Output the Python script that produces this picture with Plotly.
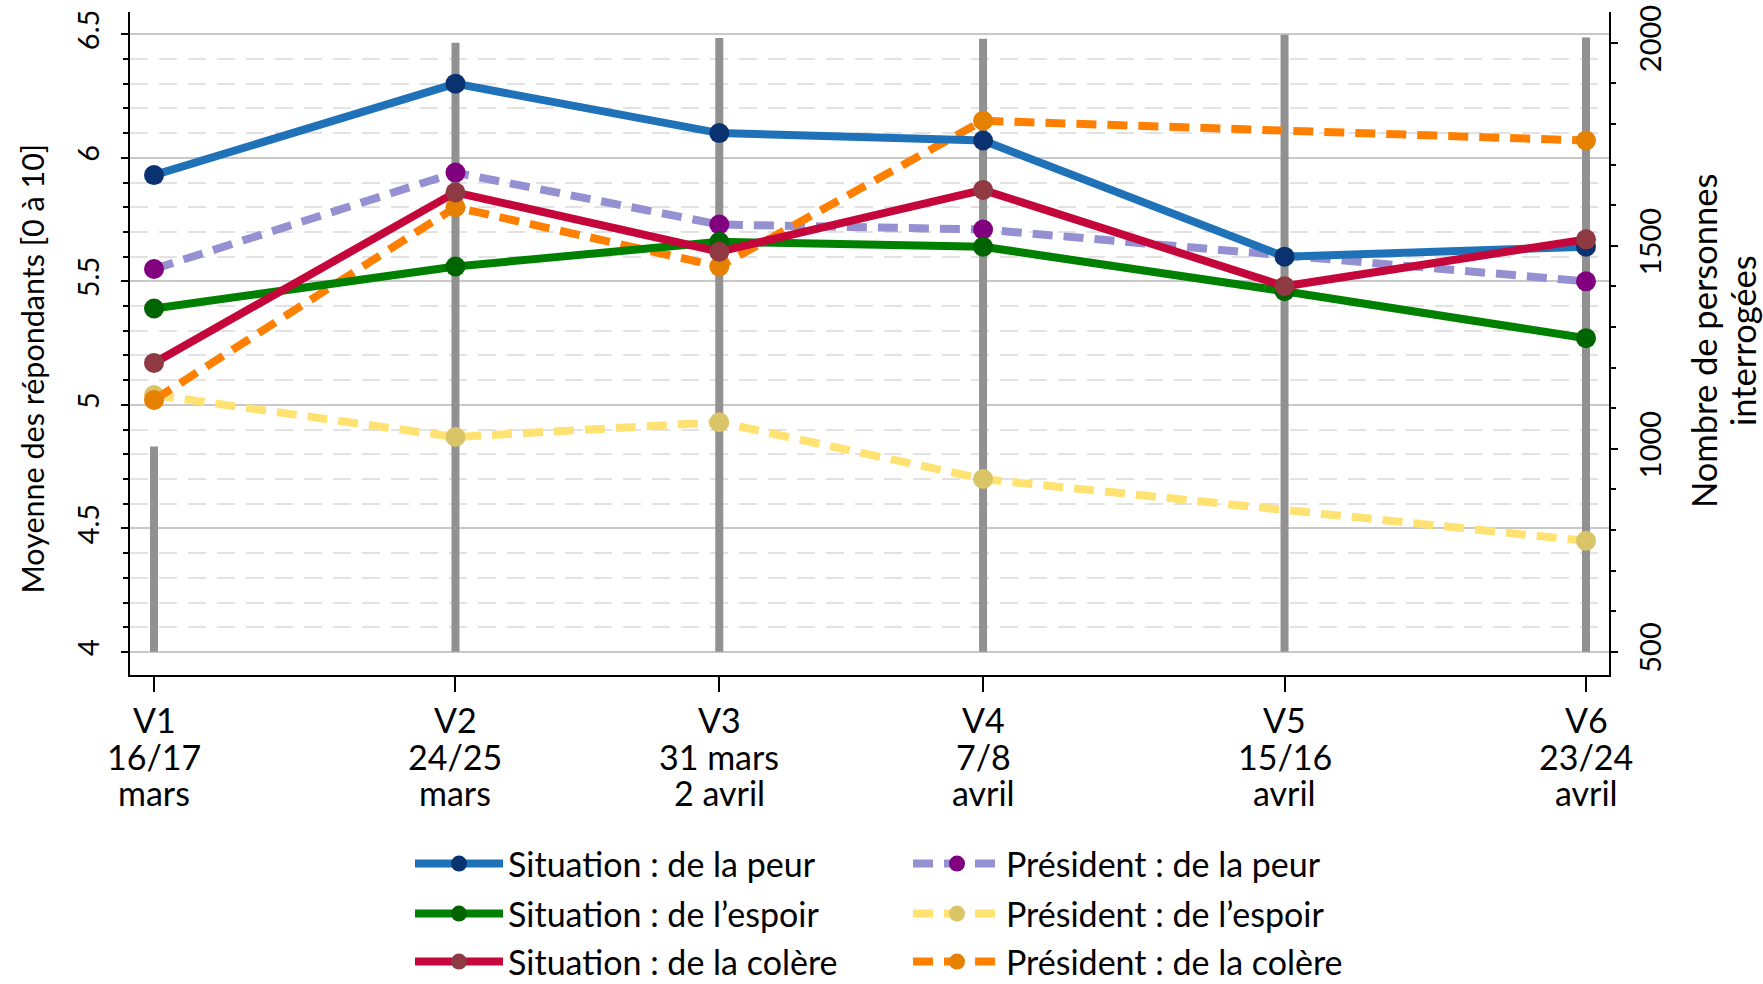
import plotly.graph_objects as go

# ---------------- data ----------------
waves = ["V1", "V2", "V3", "V4", "V5", "V6"]
wave_dates = [["16/17", "mars"], ["24/25", "mars"], ["31 mars", "2 avril"],
              ["7/8", "avril"], ["15/16", "avril"], ["23/24", "avril"]]
# mid-day of each wave, counted from 1 March
wave_day = [16.5, 24.5, 31.5, 38.5, 46.5, 54.5]

sit_peur = [5.93, 6.30, 6.10, 6.07, 5.60, 5.64]
sit_espoir = [5.39, 5.56, 5.66, 5.64, 5.46, 5.27]
sit_colere = [5.17, 5.86, 5.62, 5.87, 5.48, 5.67]
pres_peur = [5.55, 5.94, 5.73, 5.71, None, 5.50]
pres_espoir = [5.04, 4.87, 4.93, 4.70, None, 4.45]
pres_colere = [5.02, 5.80, 5.56, 6.15, None, 6.07]

n_interroges = [1006, 2000, 2012, 2010, 2020, 2013]
n_base = 500

left_ticks = [4, 4.5, 5, 5.5, 6, 6.5]
right_ticks = [500, 1000, 1500, 2000]

# ---------------- layout geometry ----------------
W, H = 1763, 984
L, R, T, B = 130, 154, 12, 309
pw = W - L - R
ph = H - T - B


def fx(px):
    return (px - L) / pw


def fy(py):
    return (H - B - py) / ph


FONT = "Lato, 'Open Sans', sans-serif"

fig = go.Figure()

# grey bars: number of respondents (right axis, primary 'y' so drawn below)
bx, by = [], []
for d, n in zip(wave_day, n_interroges):
    bx += [d, d, None]
    by += [n_base, n, None]
fig.add_trace(go.Scatter(x=bx, y=by, mode="lines", yaxis="y",
                         line=dict(color="#919191", width=8),
                         showlegend=False, hoverinfo="skip"))

series = [
    ("Situation : de la peur", sit_peur, "#1F72B8", "#0A3271", "solid", "legend"),
    ("Président : de la peur", pres_peur, "#9490D2", "#800080", "dash", "legend"),
    ("Situation : de l\u2019espoir", sit_espoir, "#008000", "#006400", "solid", "legend2"),
    ("Président : de l\u2019espoir", pres_espoir, "#FFE271", "#D9C468", "dash", "legend2"),
    ("Situation : de la colère", sit_colere, "#C4063A", "#8F3A42", "solid", "legend3"),
    ("Président : de la colère", pres_colere, "#FF8000", "#E68000", "dash", "legend3"),
]
draw_order = [3, 1, 5, 2, 0, 4]
for i in draw_order:
    name, vals, lc, mc, dash, lg = series[i]
    fig.add_trace(go.Scatter(
        x=wave_day, y=vals, name=name, yaxis="y2", mode="lines+markers",
        connectgaps=True, legendrank=i + 1, legend=lg,
        line=dict(color=lc, width=8, dash="20px,11px" if dash == "dash" else "solid"),
        marker=dict(color=mc, size=20, line=dict(width=0)),
    ))

annotations = []
for d, w, dt in zip(wave_day, waves, wave_dates):
    for k, txt in enumerate([w] + dt):
        annotations.append(dict(x=d, xref="x", y=0, yref="paper",
                                yshift=-(44.6 + 36.5 * k), yanchor="middle",
                                xanchor="center", showarrow=False, text=txt,
                                height=35, valign="middle",
                                font=dict(size=34, color="black", family=FONT)))

annotations.append(dict(x=fx(31.5), xref="paper", y=fy(369), yref="paper",
                        text="Moyenne des répondants [0 à 10]", textangle=-90,
                        showarrow=False, xanchor="center", yanchor="middle",
                        font=dict(size=30.5, color="black", family=FONT)))
annotations.append(dict(x=fx(1703), xref="paper", y=fy(341), yref="paper",
                        text="Nombre de personnes", textangle=-90,
                        showarrow=False, xanchor="center", yanchor="middle",
                        font=dict(size=34.5, color="black", family=FONT)))
annotations.append(dict(x=fx(1742), xref="paper", y=fy(341), yref="paper",
                        text="interrogées", textangle=-90,
                        showarrow=False, xanchor="center", yanchor="middle",
                        font=dict(size=34.5, color="black", family=FONT)))


def legend_row(py):
    return dict(orientation="h", x=fx(410), xanchor="left", y=fy(py), yanchor="middle",
                entrywidth=395, itemwidth=88, traceorder="normal",
                font=dict(size=34, family=FONT, color="black"),
                bgcolor="rgba(0,0,0,0)")


fig.update_layout(
    width=W, height=H,
    margin=dict(l=L, r=R, t=T, b=B, pad=0, autoexpand=False),
    paper_bgcolor="white", plot_bgcolor="white",
    font=dict(family=FONT, color="black", size=29),
    showlegend=True,
    legend=legend_row(864),
    legend2=legend_row(914),
    legend3=legend_row(962),
    xaxis=dict(range=[15.863, 55.11], tickvals=wave_day, ticktext=["" for _ in waves],
               showticklabels=False, ticks="outside", ticklen=15, tickwidth=2,
               tickcolor="black", showline=True, linecolor="black", linewidth=2,
               showgrid=False, zeroline=False, automargin=False),
    yaxis=dict(side="right", range=[443, 2076], tickvals=right_ticks,
               ticktext=[str(v) for v in right_ticks], tickangle=-90,
               ticks="outside", ticklen=7, tickwidth=2, tickcolor="black",
               ticklabelstandoff=8, automargin=False,
               minor=dict(dtick=100, tick0=500, ticks="outside", ticklen=5,
                          tickcolor="black", tickwidth=1.5, showgrid=False),
               showline=True, linecolor="black", linewidth=2,
               showgrid=False, zeroline=False, tickfont=dict(size=29)),
    yaxis2=dict(side="left", overlaying="y", range=[3.907, 6.590],
                tickvals=left_ticks, ticktext=[f"{v:g}" for v in left_ticks],
                tickangle=-90, ticks="outside", ticklen=7, tickwidth=2,
                tickcolor="black", ticklabelstandoff=10, automargin=False,
                showline=True, linecolor="black", linewidth=2,
                showgrid=True, gridcolor="#C8C8C8", gridwidth=1.5,
                minor=dict(dtick=0.1, tick0=4, ticks="outside", ticklen=5,
                           tickcolor="black", tickwidth=1.5, showgrid=True,
                           gridcolor="#E2E2E2", gridwidth=1.5, griddash="18px,11px"),
                zeroline=False, tickfont=dict(size=29)),
    annotations=annotations,
)

fig.write_html("out.html", config={"displayModeBar": False},
               post_script="document.body.style.margin='0';document.body.style.padding='0';")
